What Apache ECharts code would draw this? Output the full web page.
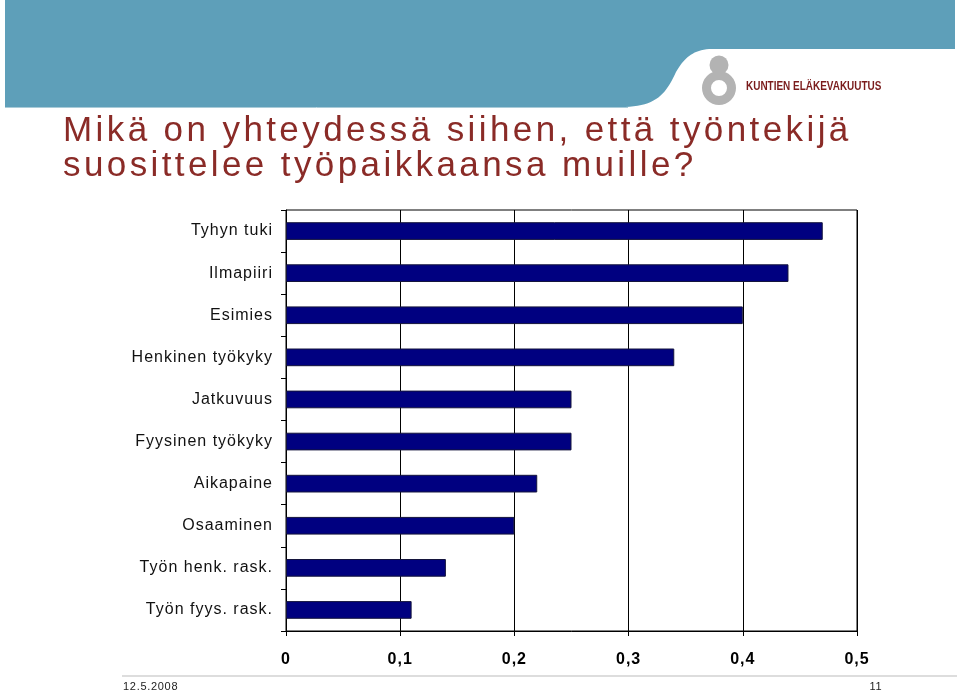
<!DOCTYPE html>
<html>
<head>
<meta charset="utf-8">
<script src="https://cdn.jsdelivr.net/npm/echarts@6/dist/echarts.min.js"></script>
<style>
html,body{margin:0;padding:0;background:#fff;}
#chart{width:960px;height:693px;}
</style>
</head>
<body>
<div id="chart"></div>
<script>
// ---- data ----
const categories = ["Tyhyn tuki","Ilmapiiri","Esimies","Henkinen työkyky","Jatkuvuus","Fyysinen työkyky","Aikapaine","Osaaminen","Työn henk. rask.","Työn fyys. rask."];
const values = [0.47, 0.44, 0.40, 0.34, 0.25, 0.25, 0.22, 0.20, 0.14, 0.11];
const titleLines = ["Mikä on yhteydessä siihen, että työntekijä", "suosittelee työpaikkaansa muille?"];
const logoText = "KUNTIEN ELÄKEVAKUUTUS";
const footerDate = "12.5.2008";
const footerPage = "11";

// letter spacing by font size (the reference text is tracked out)
const SPACING = {35: '3.4px', 16: '1px', 11: '0.7px'};
(function(){
  const proto = CanvasRenderingContext2D.prototype;
  const orig = proto.fillText;
  proto.fillText = function(t, x, y, mw){
    const m = (this.font || '').match(/(\d+(?:\.\d+)?)px/);
    const ls = m && SPACING[parseFloat(m[1])] ? SPACING[parseFloat(m[1])] : '0px';
    try { if ('letterSpacing' in this) this.letterSpacing = ls; } catch(e) {}
    return mw === undefined ? orig.call(this, t, x, y) : orig.call(this, t, x, y, mw);
  };
})();

// header band outline (decoration): straight edges + two cubic curves
function cubic(p0, p1, p2, p3, n) {
  const pts = [];
  for (let i = 0; i <= n; i++) {
    const t = i / n, u = 1 - t;
    pts.push([
      u*u*u*p0[0] + 3*u*u*t*p1[0] + 3*u*t*t*p2[0] + t*t*t*p3[0],
      u*u*u*p0[1] + 3*u*u*t*p1[1] + 3*u*t*t*p2[1] + t*t*t*p3[1]
    ]);
  }
  return pts;
}
const bandPts = [[5,0],[955,0],[955,49],[712,49]]
  .concat(cubic([712,49],[692,49],[683,60],[676,72],20).slice(1))
  .concat(cubic([676,72],[666,94],[656,106],[625,107],20).slice(1))
  .concat([[5,107]]);

const chart = echarts.init(document.getElementById('chart'), null, {renderer: 'canvas'});
const FONT = "'Liberation Sans', Arial, sans-serif";

chart.setOption({
  animation: false,
  backgroundColor: '#ffffff',
  grid: {left: 286, right: 103, top: 210, bottom: 62, show: true, borderColor: '#000', borderWidth: 1, backgroundColor: 'transparent'},
  xAxis: {
    type: 'value', min: 0, max: 0.5, interval: 0.1,
    axisLine: {show: true, lineStyle: {color: '#000', width: 1}},
    axisTick: {show: true, length: 5, lineStyle: {color: '#000'}},
    splitLine: {show: true, lineStyle: {color: '#000', width: 1}},
    axisLabel: {
      margin: 21, color: '#000', fontSize: 16, fontWeight: 'bold', fontFamily: FONT,
      formatter: function (v) { return v === 0 ? '0' : v.toFixed(1).replace('.', ','); }
    }
  },
  yAxis: {
    type: 'category', inverse: true, data: categories,
    axisLine: {show: true, lineStyle: {color: '#000', width: 1}},
    axisTick: {show: true, length: 5, lineStyle: {color: '#000'}},
    splitLine: {show: false},
    axisLabel: {margin: 13, color: '#111', fontSize: 16, fontFamily: FONT, padding: [4, 0, 0, 0]}
  },
  series: [{
    type: 'bar', data: values, barWidth: '42%',
    itemStyle: {color: '#000080', borderColor: '#14143c', borderWidth: 1},
    silent: true
  }],
  graphic: [
    {type: 'polygon', shape: {points: bandPts}, style: {fill: '#5e9fb9'}},
    {type: 'line', shape: {x1: 5, y1: 107.5, x2: 628, y2: 107.5}, style: {stroke: '#a9cbd8', lineWidth: 1}},
    {type: 'circle', shape: {cx: 719, cy: 65, r: 9.5}, style: {fill: '#b3b3b3'}},
    {type: 'ring', shape: {cx: 719, cy: 88, r: 17, r0: 8}, style: {fill: '#b3b3b3'}},
    {type: 'text', x: 746, y: 87, scaleX: 0.83, style: {text: logoText, fill: '#7a1c1c', font: "bold 12px 'Liberation Sans', sans-serif", verticalAlign: 'middle', align: 'left'}},
    {type: 'text', x: 63, y: 114, style: {text: titleLines.join('\n'), fill: '#8a2b27', fontSize: 35, fontFamily: FONT, lineHeight: 35, verticalAlign: 'top', align: 'left'}},
    {type: 'line', shape: {x1: 122, y1: 676, x2: 957, y2: 676}, style: {stroke: '#dddddd', lineWidth: 2}},
    {type: 'text', x: 123, y: 687, style: {text: footerDate, fill: '#222', fontSize: 11, fontFamily: FONT, verticalAlign: 'middle', align: 'left'}},
    {type: 'text', x: 876, y: 687, style: {text: footerPage, fill: '#222', fontSize: 11, fontFamily: FONT, verticalAlign: 'middle', align: 'center'}}
  ]
});
</script>
</body>
</html>
